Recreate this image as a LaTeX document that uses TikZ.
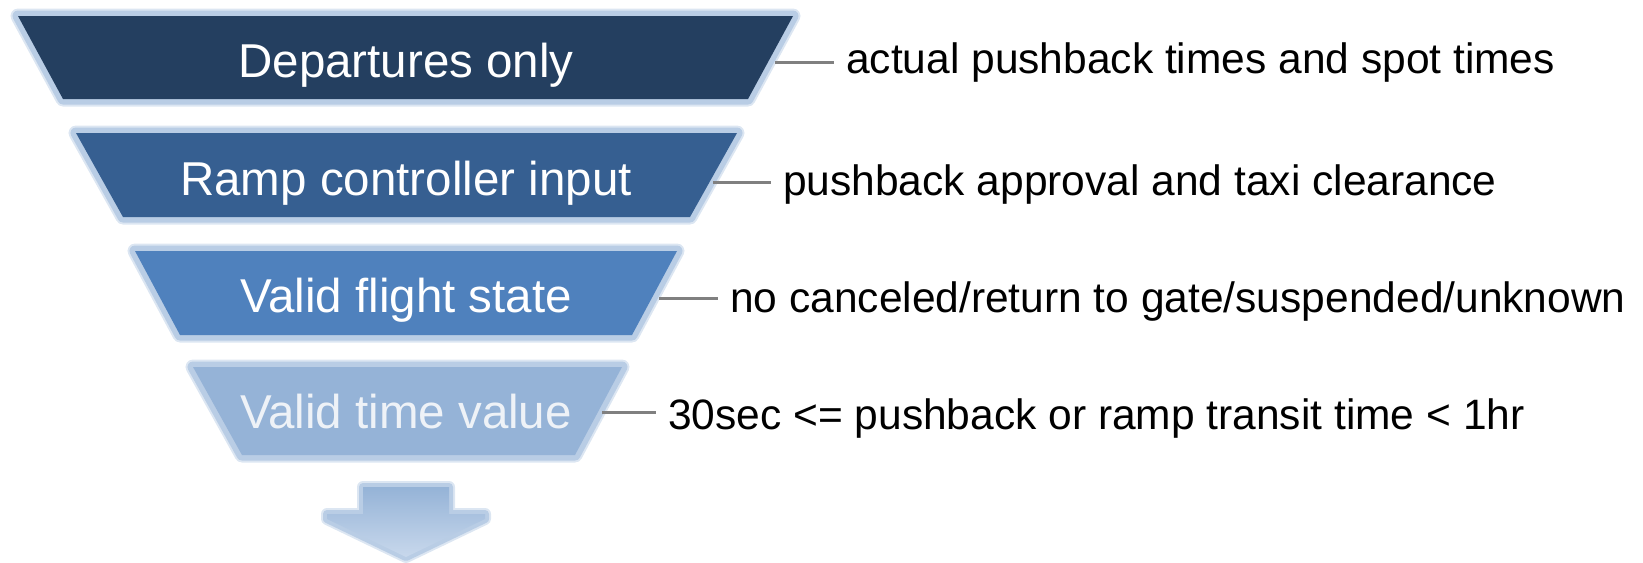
\documentclass[tikz,border=0pt]{standalone}
\usepackage{fontspec}
\setmainfont{Liberation Sans}
\definecolor{cA}{HTML}{243F60}
\definecolor{cB}{HTML}{365F91}
\definecolor{cC}{HTML}{4F81BD}
\definecolor{cD}{HTML}{95B3D7}
\definecolor{glow}{HTML}{B9CDE5}
\definecolor{glowsoft}{HTML}{DCE6F2}
\definecolor{conn}{HTML}{808080}
\definecolor{dimtext}{HTML}{EEF2F7}
\definecolor{arrowlow}{HTML}{C8D8EC}
\tikzset{
  funnelpart/.style={preaction={draw=glowsoft,line width=15pt,line join=round},
                     preaction={draw=glow,line width=11pt,line join=round}},
  boxtext/.style={text=white, inner sep=0pt, anchor=base,
                  font=\fontsize{47.5}{57}\selectfont},
  labeltext/.style={text=black, inner xsep=12pt, inner ysep=0pt, anchor=base west,
                  font=\fontsize{42.5}{51}\selectfont},
  connline/.style={draw=conn, line width=3pt}
}
\begin{document}
\begin{tikzpicture}[x=1pt,y=-1pt]
\useasboundingbox (0,0) rectangle (1643,562);

% funnel parts
\path[funnelpart, fill=cA] (18,16) -- (793,16) -- (748,99) -- (63,99) -- cycle;
\path[funnelpart, fill=cB] (76,133) -- (737,133) -- (690,217) -- (123,217) -- cycle;
\path[funnelpart, fill=cC] (135,251) -- (677,251) -- (632,335) -- (180,335) -- cycle;
\path[funnelpart, fill=cD] (193,367) -- (622,367) -- (575,455) -- (242,455) -- cycle;

% arrow
\path[preaction={draw=glowsoft,line width=12pt,line join=round},
      preaction={draw=glow,line width=8pt,line join=round},
      top color=cD, bottom color=arrowlow]
  (363,487) -- (449,487) -- (449,514) -- (485,514) -- (485,519) -- (406,557)
  -- (327,519) -- (327,514) -- (363,514) -- cycle;

% texts in the funnel
\node[boxtext] (n1) at (406,77) {Departures only};
\node[boxtext] (n2) at (406,195) {Ramp controller input};
\node[boxtext] (n3) at (406,312) {Valid flight state};
\node[boxtext, text=dimtext] (n4) at (406,428) {Valid time value};

% connector start points
\coordinate (e1) at (775,62);
\coordinate (e2) at (713,182);
\coordinate (e3) at (659,298);
\coordinate (e4) at (602,412);

% labels
\node[labeltext] (l1) at (834,73) {actual pushback times and spot times};
\node[labeltext] (l2) at (771,195) {pushback approval and taxi clearance};
\node[labeltext] (l3) at (718,312) {no canceled/return to gate/suspended/unknown};
\node[labeltext] (l4) at (656,429) {30sec <= pushback or ramp transit time < 1hr};

% connectors
\draw[connline] (e1) -- (e1 -| l1.west);
\draw[connline] (e2) -- (e2 -| l2.west);
\draw[connline] (e3) -- (e3 -| l3.west);
\draw[connline] (e4) -- (e4 -| l4.west);
\end{tikzpicture}
\end{document}
